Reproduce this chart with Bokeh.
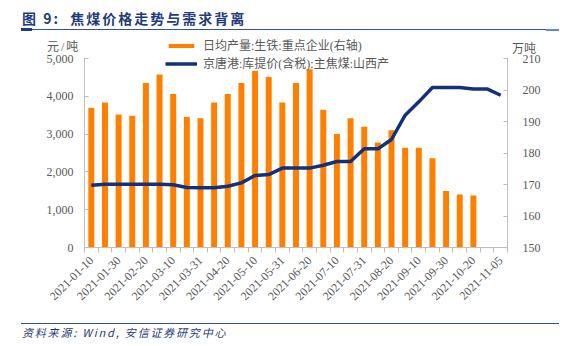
from bokeh.plotting import figure
from bokeh.models import (LinearAxis, Range1d, FixedTicker, CustomJSTickFormatter,
                          NumeralTickFormatter, Legend, LegendItem, GridBox, Div)
from bokeh.embed import file_html
from bokeh.resources import INLINE
import math

dates = ["2021-01-10", "2021-01-20", "2021-01-30", "2021-02-10", "2021-02-20", "2021-02-28",
         "2021-03-10", "2021-03-20", "2021-03-31", "2021-04-10", "2021-04-20", "2021-04-30",
         "2021-05-10", "2021-05-20", "2021-05-31", "2021-06-10", "2021-06-20", "2021-06-30",
         "2021-07-10", "2021-07-20", "2021-07-31", "2021-08-10", "2021-08-20", "2021-08-31",
         "2021-09-10", "2021-09-20", "2021-09-30", "2021-10-10", "2021-10-20", "2021-10-31",
         "2021-11-05"]
# 日均产量:生铁:重点企业 (万吨, right axis)
iron_output = [194.4, 196.0, 192.2, 191.8, 202.2, 204.9, 198.7, 191.4, 191.0, 196.0,
               198.7, 202.2, 206.0, 204.1, 196.0, 202.2, 206.6, 193.7, 186.0, 191.0,
               188.3, 183.3, 187.2, 181.7, 181.7, 178.3, 167.9, 166.8, 166.5]
# 京唐港:库提价(含税):主焦煤:山西产 (元/吨, left axis)
coal_price = [1648, 1675, 1675, 1675, 1675, 1675, 1660, 1587, 1580, 1580,
              1620, 1710, 1905, 1930, 2100, 2100, 2100, 2177, 2275, 2275,
              2610, 2610, 2857, 3500, 3853, 4233, 4233, 4233, 4196, 4196, 4027]
left_ticks = [0, 1000, 2000, 3000, 4000, 5000]
right_ticks = [150, 160, 170, 180, 190, 200, 210]
bar_label = "日均产量:生铁:重点企业(右轴)"
line_label = "京唐港:库提价(含税):主焦煤:山西产"
title_text = "图 9:&nbsp;&nbsp;焦煤价格走势与需求背离"
source_text = "资料来源:&nbsp;Wind,&nbsp;安信证券研究中心"
left_unit = "元/吨"
right_unit = "万吨"

W, H = 576, 345
AX = "#BFBFBF"
TXT = "#595959"
NAVY = "#13307C"
ORANGE = "#FF8000"
TITLE_C = "#1F3D7A"
SERIF = "Liberation Serif, Noto Sans CJK SC"
BAR_W = 0.44
LINE_W = 3.5

# frame geometry (pixels): axes span y 58..247, frame extends up to 32 to hold the legend
FRAME_TOP, AXIS_TOP, FRAME_BOTTOM = 32, 58, 247
ext = (FRAME_BOTTOM - FRAME_TOP) / (FRAME_BOTTOM - AXIS_TOP)

left_end = left_ticks[0] + (left_ticks[-1] - left_ticks[0]) * ext
right_end = right_ticks[0] + (right_ticks[-1] - right_ticks[0]) * ext

p = figure(width=W, height=H, x_range=Range1d(-0.5, len(dates) - 0.5),
           y_range=Range1d(left_ticks[0], left_end),
           output_backend="svg", toolbar_location=None,
           min_border_left=84, min_border_right=69, min_border_top=FRAME_TOP,
           min_border_bottom=H - FRAME_BOTTOM)
p.outline_line_color = None
p.background_fill_alpha = 0
p.border_fill_alpha = 0
p.xgrid.visible = False
p.ygrid.visible = False
p.extra_y_ranges = {"right": Range1d(right_ticks[0], right_end)}

xs_bar = list(range(len(iron_output)))
xs_line = list(range(len(dates)))
bars = p.vbar(x=xs_bar, top=iron_output, bottom=right_ticks[0], width=BAR_W,
              fill_color=ORANGE, line_color=None, y_range_name="right")
line = p.line(x=xs_line, y=coal_price, line_color=NAVY, line_width=LINE_W, line_join="round")

xa = p.xaxis[0]
xa.ticker = FixedTicker(ticks=list(range(0, len(dates), 2)),
                        minor_ticks=[i - 0.5 for i in range(len(dates) + 1)])
xa.formatter = CustomJSTickFormatter(args=dict(labels=dates), code="""
const i = Math.round(tick);
return (i >= 0 && i < labels.length) ? labels[i] : '';
""")
xa.major_label_orientation = math.pi / 4
xa.major_tick_in = 0
xa.major_tick_out = 0
xa.minor_tick_in = 0
xa.minor_tick_out = 5
xa.minor_tick_line_color = AX
xa.axis_line_color = AX
xa.major_label_text_color = TXT
xa.major_label_text_font = SERIF
xa.major_label_text_font_size = "12px"
xa.major_label_standoff = 6

ya = p.yaxis[0]
ya.ticker = FixedTicker(ticks=left_ticks)
ya.formatter = NumeralTickFormatter(format="0,0")
ya.bounds = (left_ticks[0], left_ticks[-1])
ya.major_tick_in = 4
ya.major_tick_out = 0
ya.minor_tick_in = 0
ya.minor_tick_out = 0
ya.axis_line_color = AX
ya.major_tick_line_color = AX
ya.major_label_text_color = TXT
ya.major_label_text_font = SERIF
ya.major_label_text_font_size = "12px"
ya.major_label_standoff = 11

ra = LinearAxis(y_range_name="right", ticker=FixedTicker(ticks=right_ticks),
                bounds=(right_ticks[0], right_ticks[-1]))
ra.major_tick_in = 4
ra.major_tick_out = 0
ra.minor_tick_in = 0
ra.minor_tick_out = 0
ra.axis_line_color = AX
ra.major_tick_line_color = AX
ra.major_label_text_color = TXT
ra.major_label_text_font = SERIF
ra.major_label_text_font_size = "12px"
ra.major_label_standoff = 15
p.add_layout(ra, "right")

legend = Legend(items=[LegendItem(label=bar_label, renderers=[bars]),
                       LegendItem(label=line_label, renderers=[line])],
                location=(81, FRAME_BOTTOM - 72), orientation="vertical")
legend.padding = 0
legend.margin = 0
legend.spacing = 0
legend.label_height = 15
legend.glyph_height = 5
legend.glyph_width = 32
legend.label_standoff = 6
legend.border_line_color = None
legend.background_fill_alpha = 0
legend.label_text_font = SERIF
legend.label_text_font_size = "12px"
legend.label_text_color = TXT
p.add_layout(legend)

# ---------------- background: title, rules, unit labels, source ----------------
def box(l, t, w, h, color):
    return (f'<div style="position:absolute;left:{l}px;top:{t}px;width:{w}px;height:{h}px;'
            f'background:{color};"></div>')

def txt(l, cy, s, css):
    return (f'<div style="position:absolute;left:{l}px;top:{cy - 10}px;height:20px;'
            f'line-height:20px;white-space:nowrap;{css}">{s}</div>')

html = (
    f'<div style="position:relative;width:{W}px;height:{H}px;background:white;">'
    + txt(22, 18, title_text,
          f"font-family:'Noto Sans CJK SC';font-size:14px;font-weight:bold;"
          f"letter-spacing:2px;color:{TITLE_C};")
    + box(21, 28.8, 538, 1.5, "#2F5597")
    + box(21, 28.3, 11, 2.6, TITLE_C)
    + box(546, 28.8, 13, 2.2, "#5B8BD0")
    + txt(47, 46.5, left_unit,
          f"font-family:{SERIF};font-size:12px;letter-spacing:2px;color:{TXT};")
    + txt(512, 49, right_unit, f"font-family:{SERIF};font-size:12px;color:{TXT};")
    + box(21, 322.6, 538, 1.4, "#2F5597")
    + txt(22, 331.7, source_text,
          f"font-family:'Noto Sans CJK SC';font-size:11px;font-style:italic;"
          f"letter-spacing:1.8px;color:{TITLE_C};")
    + '</div>'
)
bg = Div(text=html, width=W, height=H, margin=0)

layout = GridBox(children=[(bg, 0, 0), (p, 0, 0)])
open("out.html", "w").write(file_html(layout, INLINE))
